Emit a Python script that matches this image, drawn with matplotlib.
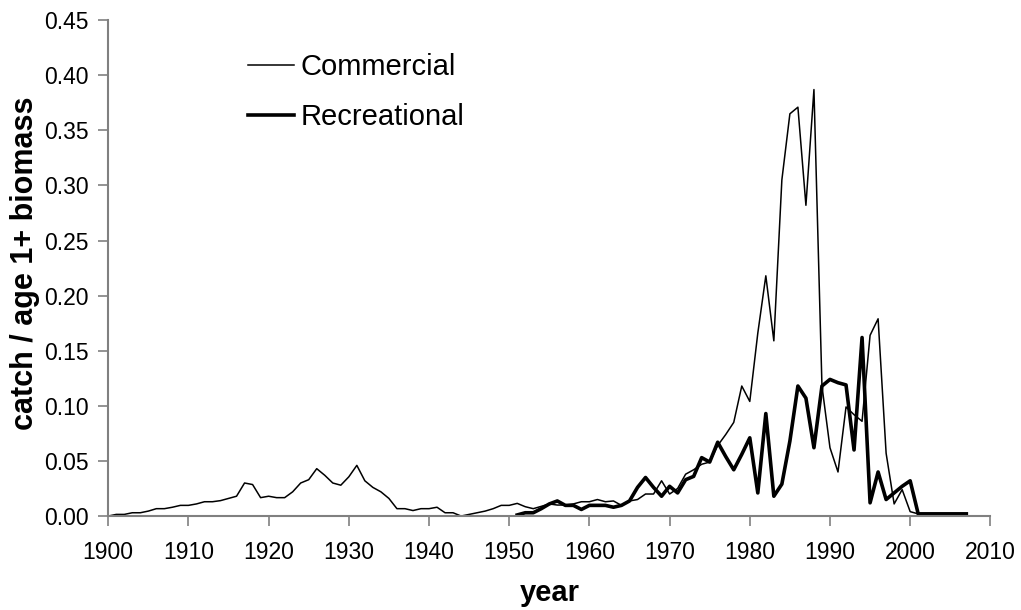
import matplotlib
matplotlib.use('Agg')
import matplotlib.pyplot as plt

plt.rcParams['font.family'] = ['Liberation Sans', 'DejaVu Sans']

# 연도
commercial_years = list(range(1900, 2008))
recreational_years = list(range(1951, 2008))

# 상업 어획 / 1세 이상 자원량 (1900-2007)
commercial = [
    0.000, 0.0015, 0.0015, 0.003, 0.003, 0.0045, 0.0067, 0.0067, 0.008, 0.0097,
    0.0097, 0.011, 0.013, 0.013, 0.014, 0.016, 0.018, 0.030, 0.0286, 0.0167,
    0.018, 0.0167, 0.0167, 0.022, 0.030, 0.033, 0.043, 0.037, 0.030, 0.028,
    0.0356, 0.046, 0.032, 0.026, 0.022, 0.016, 0.0067, 0.0067, 0.005, 0.0067,
    0.0067, 0.008, 0.003, 0.003, 0.000, 0.0015, 0.003, 0.0045, 0.0067, 0.0097,
    0.0097, 0.0115, 0.0085, 0.0067, 0.0088, 0.011, 0.010, 0.010, 0.011, 0.013,
    0.013, 0.015, 0.013, 0.0137, 0.0097, 0.0137, 0.015, 0.020, 0.020, 0.032,
    0.020, 0.025, 0.038, 0.042, 0.047, 0.049, 0.064, 0.074, 0.085, 0.118,
    0.104, 0.166, 0.218, 0.159, 0.305, 0.365, 0.371, 0.282, 0.387, 0.118,
    0.062, 0.040, 0.099, 0.092, 0.086, 0.164, 0.179, 0.057, 0.011, 0.024,
    0.004, 0.002, 0.002, 0.002, 0.002, 0.002, 0.002, 0.002,
]

# 유어 어획 / 1세 이상 자원량 (1951-2007)
recreational = [
    0.001, 0.003, 0.003, 0.0067, 0.011, 0.0137, 0.0097, 0.0097, 0.006,
    0.0097, 0.0097, 0.0097, 0.008, 0.0097, 0.0137, 0.026, 0.035, 0.026, 0.018,
    0.027, 0.021, 0.033, 0.036, 0.053, 0.049, 0.067, 0.054, 0.042, 0.056,
    0.071, 0.021, 0.093, 0.018, 0.029, 0.068, 0.118, 0.107, 0.062, 0.118,
    0.124, 0.121, 0.119, 0.060, 0.162, 0.012, 0.040, 0.015, 0.021, 0.027,
    0.032, 0.002, 0.002, 0.002, 0.002, 0.002, 0.002, 0.002,
]

x_ticks = list(range(1900, 2011, 10))
y_ticks = [i * 0.05 for i in range(10)]

fig = plt.figure(figsize=(10.21, 6.10), dpi=100)
ax = fig.add_axes([0.106, 0.154, 0.864, 0.813])

ax.plot(commercial_years, commercial, color='black', linewidth=1.1, label='Commercial')
ax.plot(recreational_years, recreational, color='black', linewidth=2.6, label='Recreational')

ax.set_xlim(1900, 2010)
ax.set_ylim(0, 0.45)
ax.set_xticks(x_ticks)
ax.set_yticks(y_ticks)
ax.set_yticklabels([f'{v:.2f}' for v in y_ticks])
ax.tick_params(labelsize=16.5, length=7, width=1.2, color='#808080')
ax.tick_params(axis='x', pad=11)
ax.tick_params(axis='y', pad=7)

for side in ['top', 'right']:
    ax.spines[side].set_visible(False)
for side in ['left', 'bottom']:
    ax.spines[side].set_color('#808080')
    ax.spines[side].set_linewidth(1.5)

ax.set_xlabel('year', fontsize=21, fontweight='bold', labelpad=11)
ax.set_ylabel('catch / age 1+ biomass', fontsize=22, fontweight='bold')
ax.yaxis.set_label_coords(-0.077, 0.51)

ax.legend(loc='upper left', bbox_to_anchor=(0.159, 0.934), frameon=False,
          fontsize=21, handlelength=1.55, handletextpad=0.25,
          labelspacing=0.75, borderpad=0, borderaxespad=0)

fig.savefig('out.png', dpi=100)
